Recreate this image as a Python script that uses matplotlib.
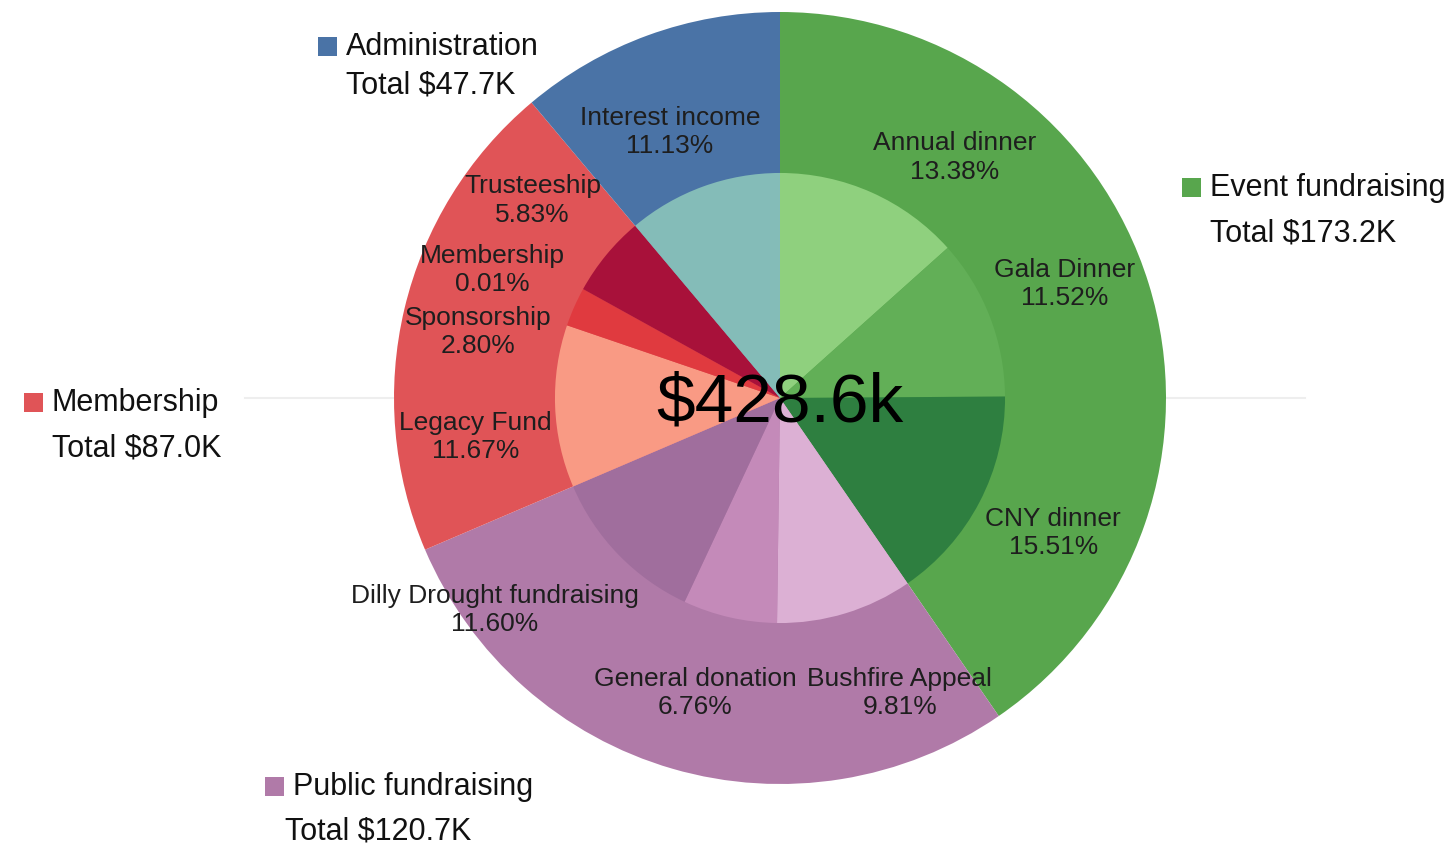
import matplotlib.pyplot as plt
import matplotlib.patches as mpatches
import numpy as np

plt.rcParams['font.family'] = ['Liberation Sans', 'DejaVu Sans']

# outer ring: categories (totals in $K)
categories = ['Event fundraising', 'Public fundraising', 'Membership', 'Administration']
cat_totals = [173.2, 120.7, 87.0, 47.7]
cat_colors = ['#58a64d', '#b07aa8', '#e05457', '#4a73a6']

# inner pie: sub-items (percent of grand total)
items = ['Annual dinner', 'Gala Dinner', 'CNY dinner',
         'Bushfire Appeal', 'General donation', 'Dilly Drought fundraising',
         'Legacy Fund', 'Sponsorship', 'Membership', 'Trusteeship',
         'Interest income']
item_pcts = [13.38, 11.52, 15.51, 9.81, 6.76, 11.60, 11.67, 2.80, 0.01, 5.83, 11.13]
item_colors = ['#8fd07e', '#62af57', '#2e7f40',
               '#dcb0d4', '#c48ab9', '#a06e9d',
               '#f99a84', '#e03a3f', '#c0203c', '#a8113a',
               '#84bcb8']

# label anchors (angle in degrees, radius) for the inner items
label_pos = [(54, 0.77), (21.8, 0.795), (-26.3, 0.79),
             (-67.9, 0.825), (-106, 0.795), (-143.4, 0.92),
             (187.3, 0.795), (167.7, 0.80), (156, 0.816), (141.4, 0.82),
             (112.5, 0.745)]

W, H = 1455, 844
R = 386.0  # pie radius in pixels
CX, CY = 780, 398

fig = plt.figure(figsize=(W / 100, H / 100), dpi=100)
ax = fig.add_axes([0, 0, 1, 1])

ax.axhline(0, xmin=245 / W, xmax=1305 / W, color='#eeeeee', linewidth=1.5, zorder=0)

ax.pie(cat_totals, radius=1.0, startangle=90, counterclock=False,
       colors=cat_colors, wedgeprops=dict(edgecolor='none', linewidth=0))
ax.pie(item_pcts, radius=0.583, startangle=90, counterclock=False,
       colors=item_colors, wedgeprops=dict(edgecolor='none', linewidth=0))

for name, pct, (ang, r) in zip(items, item_pcts, label_pos):
    a = np.deg2rad(ang)
    ax.text(r * np.cos(a), r * np.sin(a), f'{name}\n{pct:.2f}%',
            ha='center', va='center', fontsize=19, color='#1e1e1e',
            linespacing=1.22, zorder=5)

ax.text(0, -0.015, f'${sum(cat_totals):.1f}k', ha='center', va='center',
        fontsize=50, color='#000000', zorder=6)

ax.set_xlim(-CX / R, (W - CX) / R)
ax.set_ylim(-(H - CY) / R, CY / R)
ax.set_aspect('auto')
ax.axis('off')


def fx(x):
    return x / W


def fy(y):
    return 1 - y / H


# category labels: (square x, label y, total x, total y) in pixels
cat_label_pos = [(1182, 188, 1210, 234),
                 (265, 787, 285, 831),
                 (24, 403, 52, 448),
                 (318, 47, 346, 86)]

for name, total, color, (sx, ly, tx, ty) in zip(categories, cat_totals, cat_colors, cat_label_pos):
    fig.add_artist(mpatches.Rectangle((fx(sx), fy(ly + 9)), 19 / W, 19 / H,
                                      transform=fig.transFigure, facecolor=color,
                                      edgecolor='none'))
    fig.text(fx(sx + 28), fy(ly), name, ha='left', va='center', fontsize=22, color='#111111')
    fig.text(fx(tx), fy(ty), f'Total ${total:.1f}K', ha='left', va='center',
             fontsize=22, color='#111111')

fig.savefig('out.png', dpi=100)
